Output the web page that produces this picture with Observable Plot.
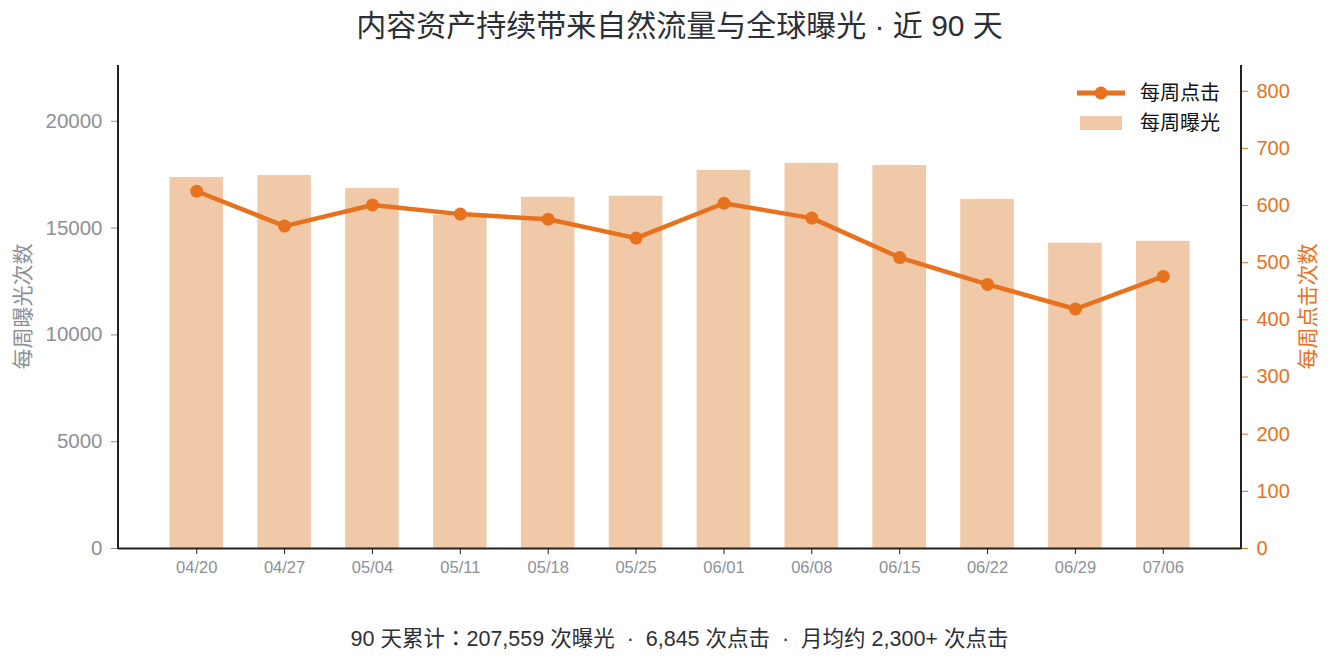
<!DOCTYPE html>
<html>
<head>
<meta charset="utf-8">
<script src="https://cdn.jsdelivr.net/npm/d3@7"></script>
<script src="https://cdn.jsdelivr.net/npm/@observablehq/plot@0.6"></script>
<style>
  html, body { margin: 0; padding: 0; background: #fff; }
  body { width: 1335px; font-family: "Liberation Sans", "Noto Sans CJK SC", sans-serif; }
  #title { box-sizing: border-box; width: 1335px; padding-left: 24px; height: 50px; line-height: 52px; text-align: center; font-size: 30px; color: #2d2f36; }
  #caption { box-sizing: border-box; width: 1335px; padding-left: 24px; height: 34px; line-height: 34px; text-align: center; font-size: 21.5px; color: #2d2f36; white-space: pre; }
  #caption .tc { font-family: "Noto Sans CJK TC", sans-serif; }
  #chart svg { display: block; }
</style>
</head>
<body>
<div id="title">内容资产持续带来自然流量与全球曝光 · 近 90 天</div>
<div id="chart"></div>
<div id="caption">90 天累计<span class="tc">：</span>207,559 次曝光  ·  6,845 次点击  ·  月均约 2,300+ 次点击</div>
<script>
// ---- data ----
const weeks = ["04/20","04/27","05/04","05/11","05/18","05/25","06/01","06/08","06/15","06/22","06/29","07/06"];
const impressions = [17370, 17460, 16860, 15600, 16440, 16490, 17700, 18030, 17930, 16340, 14290, 14380];
const clicks = [625, 564, 601, 585, 576, 543, 604, 578, 509, 462, 419, 476];
const leftTicks = [0, 5000, 10000, 15000, 20000];
const rightTicks = [0, 100, 200, 300, 400, 500, 600, 700, 800];
const leftMax = 22610;
const rightMax = 845;
const k = leftMax / rightMax;

const rows = weeks.map((w, i) => ({week: w, impressions: impressions[i], clicks: clicks[i], clicksScaled: clicks[i] * k}));

const ORANGE = "#E8711E";
const BAR = "#F0C9A9";
const GRAY = "#8C9099";
const FONT = '"Liberation Sans", "Noto Sans CJK SC", sans-serif';

const W = 1335, H = 570, mL = 118, mR = 94, mT = 15, mB = 72;

const svg = Plot.plot({
  width: W,
  height: H,
  marginLeft: mL,
  marginRight: mR,
  marginTop: mT,
  marginBottom: mB,
  style: {fontFamily: FONT, background: "white", overflow: "visible"},
  x: {type: "band", domain: weeks, paddingInner: 0.39, paddingOuter: 0.585, round: false},
  y: {domain: [0, leftMax]},
  marks: [
    Plot.barY(rows, {x: "week", y: "impressions", fill: BAR}),
    Plot.axisY({anchor: "left", ticks: leftTicks, tickFormat: d => String(d), tickSize: 7, tickPadding: 9, fontSize: 20.5, color: GRAY, label: null}),
    Plot.axisY({anchor: "right", ticks: rightTicks.map(v => v * k), tickFormat: d => String(Math.round(d / k)), tickSize: 6, tickPadding: 9, fontSize: 20, color: ORANGE, label: null}),
    Plot.axisX({anchor: "bottom", tickSize: 6, tickPadding: 7, fontSize: 16.5, color: GRAY, label: null}),
    Plot.ruleY([0], {stroke: "#222", strokeWidth: 2}),
    Plot.line(rows, {x: "week", y: "clicksScaled", stroke: ORANGE, strokeWidth: 4.5}),
    Plot.dot(rows, {x: "week", y: "clicksScaled", fill: ORANGE, r: 6.5})
  ]
});

const s = d3.select(svg);
// spines
const x0 = mL, x1 = W - mR, y0 = mT, y1 = H - mB;
s.append("line").attr("x1", x0).attr("x2", x0).attr("y1", y0).attr("y2", y1 + 1).attr("stroke", "#222").attr("stroke-width", 2);
s.append("line").attr("x1", x1).attr("x2", x1).attr("y1", y0).attr("y2", y1 + 1).attr("stroke", "#222").attr("stroke-width", 2);
// x tick marks dark
s.selectAll("g[aria-label='x-axis tick']").attr("stroke", "#222");

// axis titles
s.append("text").attr("transform", `translate(22,${(y0 + y1) / 2}) rotate(-90)`)
  .attr("text-anchor", "middle").attr("dominant-baseline", "central")
  .attr("font-size", 21).attr("fill", GRAY).attr("font-family", FONT).text("每周曝光次数");
s.append("text").attr("transform", `translate(1307,${(y0 + y1) / 2}) rotate(-90)`)
  .attr("text-anchor", "middle").attr("dominant-baseline", "central")
  .attr("font-size", 21).attr("fill", ORANGE).attr("font-family", FONT).text("每周点击次数");

// legend
const lg = s.append("g").attr("font-family", FONT).attr("font-size", 20).attr("fill", "#111").attr("text-anchor", "start");
const ly1 = 43, ly2 = 73;
lg.append("line").attr("x1", 1077).attr("x2", 1125).attr("y1", ly1).attr("y2", ly1).attr("stroke", ORANGE).attr("stroke-width", 5);
lg.append("circle").attr("cx", 1101).attr("cy", ly1).attr("r", 6.5).attr("fill", ORANGE);
lg.append("text").attr("x", 1140).attr("y", ly1).attr("dominant-baseline", "central").attr("text-anchor", "start").text("每周点击");
lg.append("rect").attr("x", 1080).attr("y", ly2 - 7).attr("width", 42).attr("height", 14).attr("fill", BAR);
lg.append("text").attr("x", 1140).attr("y", ly2).attr("dominant-baseline", "central").attr("text-anchor", "start").text("每周曝光");

document.getElementById("chart").appendChild(svg);
</script>
</body>
</html>
